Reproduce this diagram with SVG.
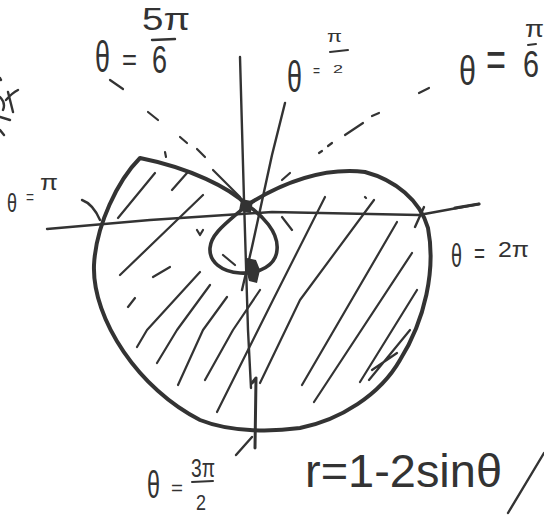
<svg xmlns="http://www.w3.org/2000/svg" width="544" height="515" viewBox="0 0 544 515">
<style>
.ink{fill:none;stroke:#333;stroke-linecap:round;stroke-linejoin:round}
.curve{stroke-width:4}
.axis{stroke-width:2.4}
.hatch{stroke-width:2.2}
.dash{stroke-width:2.2}
.t{font-family:"Liberation Sans","DejaVu Sans",sans-serif;fill:#333}
</style>
<rect width="544" height="515" fill="#fff"/>
<g id="axes">
<polyline class="ink axis" points="47,229 150,220 272,212 419,215 479,204"/>
<path class="ink" stroke-width="3.2" d="M455,208 L479,204"/>
<path class="ink axis" d="M240,57 L244,200 L248,330 L251,388"/>
<path class="ink" stroke-width="3" d="M252,383 L256,378 L255,448"/>
<path class="ink axis" d="M236,455 L252,437"/>
<path class="ink axis" d="M285,103 L272,155 L252,247 L242,290"/>
<path class="ink axis" d="M82,200 Q93,204 100,220"/>
<path class="ink axis" d="M424,207 L415,227"/>
</g>
<g id="dashed">
<path class="ink dash" d="M110,80 L123,89 M148,112 L158,120 M180,137 L187,143 M197,149 L205,157 M213,170 L240,197 M165,152 L166,157"/>
<path class="ink dash" d="M419,93 L429,88 M372,116 L379,113 M345,135 L363,123 M319,153 L322,151 M328,146 L332,143 M282,180 L290,173"/>
</g>
<g id="hatching">
<path class="ink hatch" d="M118,218 L155,173 M172,190 L187,173 M120,275 L203,195 M200,235 L203,230 M153,277 L170,267 M128,307 L135,298
M137,347 L147,330 L200,272 M157,363 L177,330 L210,285 M178,385 L203,330 L227,297 M205,380 L233,330 L260,290
M217,412 L273,300 L325,197 M260,383 L300,300 L374,200 M302,385 L397,222 M314,402 L412,253 M360,382 L417,290
M369,380 L410,330 M372,370 L397,353 M223,255 L235,265 M282,217 L292,230 M197,230 L200,235 M365,197 L366,198"/>
</g>
<g id="limacon">
<path class="ink curve" d="M247,205 C230,188 190,168 140,158 C118,180 96,225 94,265 C92,320 140,390 200,420 C230,432 270,432 300,428 C340,420 380,395 400,360 C425,320 436,270 428,228 C420,200 395,180 365,172 C330,168 290,178 247,205 Z"/>
<path class="ink" stroke-width="3.6" d="M247,205 C262,215 279,232 277,250 C276,265 260,274 240,273 C222,272 209,262 210,248 C211,233 228,222 247,205 Z"/>
<path fill="#333" d="M247,258 L256,260 L260,270 L257,283 L249,281 L246,270 Z"/>
<rect x="240" y="200" width="12" height="12" fill="#333" transform="rotate(10 246 206)"/>
</g>
<g id="scribbles">
<path class="ink axis" d="M0,78 L1,80 M18,90 Q12,93 6,100 M8,92 L13,112 M0,97 Q6,103 3,110 M0,117 L10,120 M0,130 L4,135"/>
<path class="ink axis" d="M508,513 L544,453"/>
</g>
<g id="label-5pi6">
<text class="t" x="95" y="72" font-size="44" textLength="15" lengthAdjust="spacingAndGlyphs">θ</text>
<text class="t" x="122" y="70" font-size="30" textLength="15" lengthAdjust="spacingAndGlyphs">=</text>
<text class="t" x="142" y="30" font-size="32" textLength="48" lengthAdjust="spacingAndGlyphs">5π</text>
<path class="ink axis" d="M152,40 L175,39"/>
<text class="t" x="152" y="73" font-size="38" textLength="15" lengthAdjust="spacingAndGlyphs">6</text>
</g>
<g id="label-pi2">
<text class="t" x="287" y="92" font-size="44" textLength="15" lengthAdjust="spacingAndGlyphs">θ</text>
<text class="t" x="313" y="76" font-size="16" textLength="7" lengthAdjust="spacingAndGlyphs">=</text>
<text class="t" x="327" y="42" font-size="17" textLength="15" lengthAdjust="spacingAndGlyphs">π</text>
<path class="ink" stroke-width="2" d="M330,52 L348,50"/>
<text class="t" x="333" y="73" font-size="11" textLength="10" lengthAdjust="spacingAndGlyphs">2</text>
</g>
<g id="label-pi6">
<text class="t" x="459" y="85" font-size="40" textLength="17" lengthAdjust="spacingAndGlyphs">θ</text>
<text class="t" x="486" y="76" font-size="50" textLength="20" lengthAdjust="spacingAndGlyphs">=</text>
<text class="t" x="525" y="37" font-size="24" textLength="19" lengthAdjust="spacingAndGlyphs">π</text>
<path class="ink" stroke-width="2" d="M528,45 L536,44"/>
<text class="t" x="523" y="77" font-size="36" textLength="16" lengthAdjust="spacingAndGlyphs">6</text>
</g>
<g id="label-pi">
<text class="t" x="7" y="212" font-size="26" textLength="10" lengthAdjust="spacingAndGlyphs">θ</text>
<text class="t" x="26" y="203" font-size="18" textLength="8" lengthAdjust="spacingAndGlyphs">=</text>
<text class="t" x="40" y="190" font-size="22" textLength="18" lengthAdjust="spacingAndGlyphs">π</text>
</g>
<g id="label-2pi">
<text class="t" x="451" y="267" font-size="34" textLength="11" lengthAdjust="spacingAndGlyphs">θ</text>
<text class="t" x="474" y="263" font-size="28" textLength="11" lengthAdjust="spacingAndGlyphs">=</text>
<text class="t" x="498" y="257" font-size="22" textLength="31" lengthAdjust="spacingAndGlyphs">2π</text>
</g>
<g id="label-3pi2">
<text class="t" x="147" y="498" font-size="38" textLength="13" lengthAdjust="spacingAndGlyphs">θ</text>
<text class="t" x="171" y="495" font-size="20" textLength="12" lengthAdjust="spacingAndGlyphs">=</text>
<text class="t" x="191" y="477" font-size="25" textLength="24" lengthAdjust="spacingAndGlyphs">3π</text>
<path class="ink" stroke-width="2" d="M192,482 L213,481"/>
<text class="t" x="196" y="510" font-size="22" textLength="10" lengthAdjust="spacingAndGlyphs">2</text>
</g>
<g id="equation">
<text class="t" x="305" y="487" font-size="46" textLength="197" lengthAdjust="spacingAndGlyphs">r=1-2sinθ</text>
</g>
</svg>
